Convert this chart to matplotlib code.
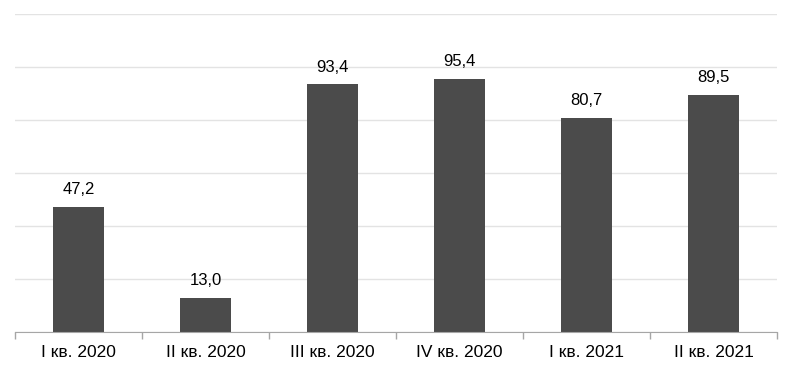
import matplotlib.pyplot as plt
import numpy as np

plt.rcParams['font.family'] = ['Liberation Sans', 'DejaVu Sans']

# данные
quarters = ["I кв. 2020", "II кв. 2020", "III кв. 2020", "IV кв. 2020", "I кв. 2021", "II кв. 2021"]
values = [47.2, 13.0, 93.4, 95.4, 80.7, 89.5]

fig = plt.figure(figsize=(7.9, 3.7), dpi=100)
ax = fig.add_axes([0.019, 0.1027, 0.9645, 0.8595])

x = np.arange(len(quarters))
bars = ax.bar(x, values, width=0.4, color="#4b4b4b", zorder=3)

for b, v in zip(bars, values):
    ax.annotate(f"{v:.1f}".replace(".", ","), (b.get_x() + b.get_width() / 2, v),
                xytext=(0, 7), textcoords="offset points",
                ha="center", va="bottom", fontsize=12, color="#000000")

ax.set_xlim(-0.5, len(quarters) - 0.5)
ax.set_ylim(0, 120)
ax.set_yticks(np.arange(0, 121, 20))
ax.yaxis.grid(True, color="#e3e3e3", linewidth=1, zorder=0)
ax.tick_params(axis="y", left=False, labelleft=False)

ax.set_xticks(x)
ax.set_xticklabels(quarters, fontsize=12.5)
ax.set_xticks(np.arange(-0.5, len(quarters)), minor=True)
ax.tick_params(axis="x", which="major", length=0, pad=9)
ax.tick_params(axis="x", which="minor", length=5, color="#a6a6a6", width=1)

for s in ["top", "left", "right"]:
    ax.spines[s].set_visible(False)
ax.spines["bottom"].set_color("#a6a6a6")
ax.spines["bottom"].set_zorder(4)

fig.savefig("out.png", dpi=100)
